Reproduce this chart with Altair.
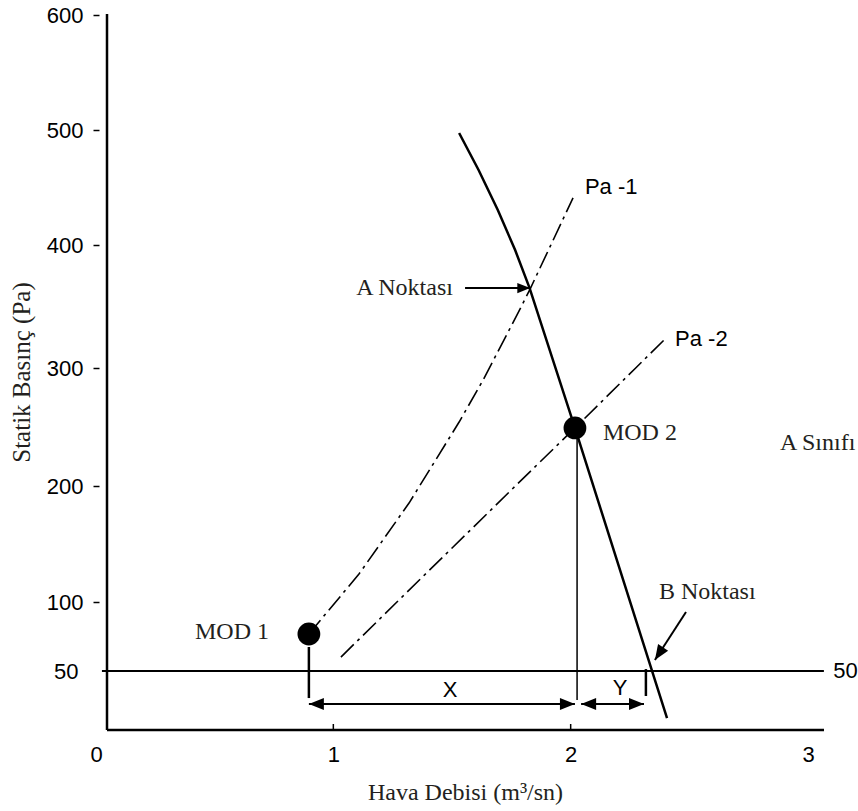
import altair as alt
import pandas as pd

SANS = "Liberation Sans"
SERIF = "Liberation Serif"

# ---- axis ticks ----
x_ticks = [0, 1, 2, 3]
y_ticks = [50, 100, 200, 300, 400, 500, 600]

# ---- curves ----
fan_x = [1.530, 1.612, 1.693, 1.766, 1.827, 2.018, 2.406]
fan_y = [497.4, 465.2, 430.4, 395.9, 365.0, 249.2, 15.9]

pa1_x = [0.897, 1.108, 1.319, 1.530, 1.631, 1.787, 1.829, 2.010]
pa1_y = [76.8, 124.1, 185.3, 254.2, 289.8, 348.0, 364.2, 440.9]

pa2_x = [1.032, 1.268, 1.767, 2.018, 2.274, 2.398]
pa2_y = [60.1, 100.0, 200.0, 249.2, 300.0, 323.6]

mod_names = ["MOD 1", "MOD 2"]
mod_x = [0.897, 2.018]
mod_y = [76.8, 249.2]

ref_level = 50

# ---- annotation segments ----
seg_x = [1.555, 2.486, 0.897, 2.044, 0.897, 2.027, 2.317, 0.025]
seg_x2 = [1.829, 2.355, 2.018, 2.309, 0.897, 2.027, 2.317, 3.067]
seg_y = [365.0, 92.8, 26.1, 26.1, 67.4, 249.2, 51.4, ref_level]
seg_y2 = [365.0, 58.0, 26.1, 26.1, 30.4, 29.0, 31.9, ref_level]
seg_w = [2, 2, 2, 2, 2.5, 1.5, 2.5, 2]

# ---- arrow heads ----
head_x = [1.829, 2.355, 0.897, 2.018, 2.044, 2.309]
head_y = [365.0, 58.0, 26.1, 26.1, 26.1, 26.1]
head_angle = [0, 123, 180, 0, 180, 0]
head_size = [650, 900, 900, 900, 900, 900]

# ---- labels ----
serif_c_t, serif_c_x, serif_c_y = ["MOD 1"], [0.573], [78.5]
serif_l_t = ["MOD 2", "A Sınıfı", "B Noktası"]
serif_l_x = [2.136, 2.882, 2.372]
serif_l_y = [244.9, 236.4, 108.6]
serif_r_t, serif_r_x, serif_r_y = ["A Noktası"], [1.504], [365.0]
sans_l_t = ["Pa -1", "Pa -2", "50"]
sans_l_x = [2.060, 2.440, 3.106]
sans_l_y = [450.4, 323.6, 50.0]
sans_c_t = ["X", "Y"]
sans_c_x = [1.492, 2.208]
sans_c_y = [36.2, 37.7]

W, H = 717, 716
TXT = "#231f20"

xs = alt.Scale(domain=[0, 3], range=[-11, 701], nice=False, zero=False)
ys = alt.Scale(domain=y_ticks, range=[657, 588, 472, 354, 231, 116, 1], nice=False, zero=False)

x_axis = alt.Axis(values=x_ticks, domain=False, ticks=False, grid=False,
                  labelFont=SANS, labelFontSize=22, labelColor="black", labelPadding=14,
                  labelFlush=False, labelOverlap=False,
                  title="Hava Debisi (m³/sn)", titleFont=SERIF, titleFontSize=24,
                  titleFontWeight="normal", titleColor=TXT,
                  titleX=358, titleY=62, titleBaseline="middle", titleAlign="center")
y_axis = alt.Axis(values=y_ticks, domain=False, grid=False, offset=8, tickSize=6, tickWidth=1.5,
                  tickColor="black",
                  tickOpacity={"condition": {"test": "datum.value === 50", "value": 0}, "value": 1},
                  labelFont=SANS, labelFontSize=22, labelColor="black",
                  labelPadding={"condition": {"test": "datum.value === 50", "value": 15}, "value": 10},
                  labelOverlap=False,
                  title="Statik Basınç (Pa)", titleFont=SERIF, titleFontSize=25,
                  titleFontWeight="normal", titleColor=TXT,
                  titleX=-78, titleY=358, titleBaseline="middle", titleAlign="center", titleAngle=270)


def X(f="x"):
    return alt.X(f"{f}:Q", scale=xs, axis=x_axis)


def Y(f="y"):
    return alt.Y(f"{f}:Q", scale=ys, axis=y_axis)


fan_df = pd.DataFrame({"x": fan_x, "y": fan_y})
pa1_df = pd.DataFrame({"x": pa1_x, "y": pa1_y})
pa2_df = pd.DataFrame({"x": pa2_x, "y": pa2_y})
mod_df = pd.DataFrame({"name": mod_names, "x": mod_x, "y": mod_y})
seg_df = pd.DataFrame({"x": seg_x, "x2": seg_x2, "y": seg_y, "y2": seg_y2, "w": seg_w})
head_df = pd.DataFrame({"x": head_x, "y": head_y, "a": head_angle, "s": head_size})

axis_lines_v = alt.Chart(alt.Data(values=[{}])).mark_rule(color="black", strokeWidth=2.5).encode(
    x=alt.value(0), y=alt.value(0), y2=alt.value(H))
axis_lines_h = alt.Chart(alt.Data(values=[{}])).mark_rule(color="black", strokeWidth=2.5).encode(
    y=alt.value(H), x=alt.value(0), x2=alt.value(W))
inner_ticks = alt.Chart(pd.DataFrame({"x": [1, 2]})).mark_rule(color="black", strokeWidth=1.5).encode(
    x=X(), y=alt.value(H - 6), y2=alt.value(H))

fan = alt.Chart(fan_df).mark_line(color="black", strokeWidth=2.5).encode(x=X(), y=Y())
pa1 = alt.Chart(pa1_df).mark_line(color="black", strokeWidth=1.6, strokeDash=[18, 5, 3, 5]).encode(x=X(), y=Y())
pa2 = alt.Chart(pa2_df).mark_line(color="black", strokeWidth=1.6, strokeDash=[18, 5, 3, 5]).encode(x=X(), y=Y())

segs = alt.Chart(seg_df).mark_rule(color="black").encode(
    x=X(), x2="x2", y=Y(), y2="y2", strokeWidth=alt.StrokeWidth("w:Q", scale=None))

heads = alt.Chart(head_df).mark_point(shape="M0,0L-1,-0.4L-1,0.4Z", filled=True, color="black",
                                      opacity=1, strokeWidth=0).encode(
    x=X(), y=Y(), angle=alt.Angle("a:Q", scale=None), size=alt.Size("s:Q", scale=None))

dots = alt.Chart(mod_df).mark_circle(size=520, color="black", opacity=1).encode(x=X(), y=Y())


def txt(ts, xv, yv, font, align, color):
    df = pd.DataFrame({"t": ts, "x": xv, "y": yv})
    return alt.Chart(df).mark_text(font=font, fontSize=22 if font == SANS else 24, align=align,
                                   baseline="middle", color=color).encode(x=X(), y=Y(), text="t:N")


texts = [
    txt(serif_c_t, serif_c_x, serif_c_y, SERIF, "center", TXT),
    txt(serif_l_t, serif_l_x, serif_l_y, SERIF, "left", TXT),
    txt(serif_r_t, serif_r_x, serif_r_y, SERIF, "right", TXT),
    txt(sans_l_t, sans_l_x, sans_l_y, SANS, "left", "black"),
    txt(sans_c_t, sans_c_x, sans_c_y, SANS, "center", "black"),
]

chart = alt.layer(
    axis_lines_v, axis_lines_h, inner_ticks, pa1, pa2, fan, segs, heads, dots, *texts
).properties(
    width=W, height=H,
    padding={"left": 107, "top": 14, "right": 34, "bottom": 81},
    autosize=alt.AutoSizeParams(type="none"),
).configure_view(stroke=None)

chart.save("out.html", embed_options={"renderer": "svg", "actions": False})
